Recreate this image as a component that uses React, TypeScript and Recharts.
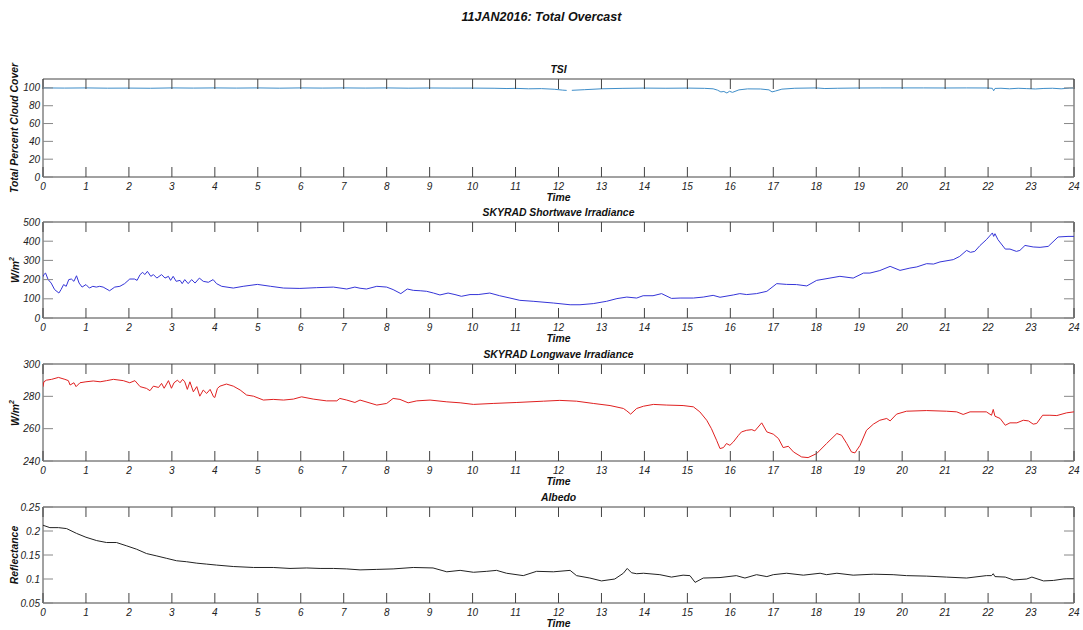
import React from 'react';
import { LineChart, Line, XAxis, YAxis, ReferenceArea } from 'recharts';

// ---- readings: [hour of day, value] ----
const HOUR_TICKS = [0, 1, 2, 3, 4, 5, 6, 7, 8, 9, 10, 11, 12, 13, 14, 15, 16, 17, 18, 19, 20, 21, 22, 23, 24];

const TSI_COVER: [number, number | null][] = [
  [0, 100], [0.5, 99.8], [1, 100], [1.5, 99.7], [2, 99.8], [2.5, 99.6], [3, 100], [3.5, 99.8],
  [4, 100], [4.5, 99.8], [5, 100], [5.5, 99.7], [6, 100], [6.5, 99.8], [7, 100], [7.5, 99.8],
  [8, 100], [8.5, 99.7], [9, 99.9], [9.5, 99.8], [10, 99.8], [10.5, 99.6], [10.8, 99.3], [11, 99.5],
  [11.3, 99.0], [11.6, 99.2], [11.9, 98.5], [12.1, 97.5], [12.19, 97.2], [12.25, null], [12.31, 97.3],
  [12.6, 98.0], [13, 99.0], [13.5, 99.5], [14, 99.8], [14.5, 99.6], [15, 99.8], [15.4, 99.5],
  [15.6, 99.0], [15.7, 97.5], [15.78, 95.5], [15.85, 96.0], [15.92, 94.3], [15.98, 96.2], [16.05, 95.0],
  [16.2, 97.8], [16.4, 98.9], [16.7, 98.8], [16.9, 97.8], [16.97, 95.5], [17.05, 96.5], [17.2, 98.6],
  [17.5, 99.6], [18, 100], [18.2, 99.3], [18.5, 99.6], [19, 99.9], [19.5, 100], [20, 100], [20.5, 100],
  [21, 99.9], [21.5, 100], [22, 99.9], [22.1, 99.5], [22.13, 96.8], [22.16, 99.4], [22.3, 99.6],
  [22.5, 99.0], [22.7, 99.6], [22.9, 99.2], [23.1, 98.8], [23.3, 99.4], [23.5, 99.6], [23.7, 99.0],
  [23.9, 99.8], [24, 100],
];

const SHORTWAVE: [number, number][] = [
  [0, 215], [0.02, 226], [0.06, 234], [0.12, 200], [0.19, 182], [0.27, 148], [0.37, 130], [0.42, 148],
  [0.48, 174], [0.54, 165], [0.6, 200], [0.66, 203], [0.72, 191], [0.78, 220], [0.84, 182], [0.91, 161],
  [1.0, 174], [1.08, 156], [1.16, 165], [1.24, 161], [1.32, 165], [1.4, 161], [1.55, 142], [1.67, 161],
  [1.79, 165], [1.9, 179], [2.02, 203], [2.13, 203], [2.19, 196], [2.26, 226], [2.32, 238], [2.37, 226],
  [2.43, 243], [2.51, 217], [2.57, 226], [2.65, 208], [2.76, 226], [2.84, 208], [2.92, 217], [2.97, 196],
  [3.03, 217], [3.1, 191], [3.19, 196], [3.24, 179], [3.3, 200], [3.38, 179], [3.46, 200], [3.54, 182],
  [3.64, 208], [3.73, 191], [3.85, 186], [3.96, 200], [4.04, 179], [4.16, 165], [4.43, 156], [4.66, 165],
  [4.99, 175], [5.3, 165], [5.6, 156], [5.98, 154], [6.37, 158], [6.76, 161], [7.07, 151], [7.26, 161],
  [7.38, 155], [7.53, 151], [7.77, 165], [8.0, 161], [8.15, 148], [8.33, 127], [8.48, 151], [8.62, 144],
  [8.78, 142], [8.93, 139], [9.09, 130], [9.24, 120], [9.43, 130], [9.59, 122], [9.74, 113], [9.94, 122],
  [10.13, 122], [10.4, 130], [10.63, 116], [10.87, 104], [11.1, 92], [11.41, 87], [11.88, 78], [12.27, 69],
  [12.5, 69], [12.81, 75], [13.12, 87], [13.36, 101], [13.59, 109], [13.82, 104], [13.97, 116], [14.2, 116],
  [14.4, 127], [14.63, 102], [14.83, 104], [15.14, 104], [15.37, 109], [15.6, 118], [15.76, 108],
  [16.07, 120], [16.22, 127], [16.38, 122], [16.61, 127], [16.85, 139], [17.08, 179], [17.31, 175],
  [17.54, 174], [17.78, 167], [18.01, 196], [18.32, 208], [18.55, 217], [18.86, 208], [19.1, 234],
  [19.25, 234], [19.48, 247], [19.72, 269], [19.95, 248], [20.18, 260], [20.34, 266], [20.57, 283],
  [20.73, 281], [20.88, 292], [21.19, 304], [21.34, 321], [21.5, 352], [21.59, 342], [21.69, 347],
  [21.81, 377], [21.96, 408], [22.1, 443], [22.13, 425], [22.16, 439], [22.23, 408], [22.4, 359],
  [22.51, 359], [22.66, 347], [22.74, 352], [22.86, 378], [23.05, 370], [23.21, 368], [23.4, 373],
  [23.63, 422], [23.86, 425], [24, 425],
];

const LONGWAVE: [number, number][] = [
  [0, 285.9], [0.02, 289], [0.08, 290], [0.2, 290.5], [0.36, 291.7], [0.51, 290.5], [0.59, 289.7],
  [0.63, 287], [0.72, 288.4], [0.77, 286], [0.86, 288.4], [1.0, 289], [1.17, 289.5], [1.33, 289],
  [1.48, 289.7], [1.64, 290.5], [1.87, 289.7], [2.02, 288.4], [2.14, 289.7], [2.26, 286], [2.41, 284.9],
  [2.49, 283.5], [2.57, 286.3], [2.69, 285.5], [2.76, 288], [2.82, 285], [2.92, 289.7], [2.99, 285],
  [3.05, 288.4], [3.13, 290], [3.19, 288.4], [3.25, 290.5], [3.3, 289], [3.36, 284.3], [3.42, 289],
  [3.5, 282.8], [3.58, 286], [3.65, 280.1], [3.73, 283.9], [3.81, 281.8], [3.89, 284.3], [3.97, 279.7],
  [4.0, 279.3], [4.06, 284.9], [4.12, 286.3], [4.27, 287.6], [4.43, 286.3], [4.59, 283.9], [4.74, 280.8],
  [4.9, 280.1], [5.13, 277.7], [5.36, 278.1], [5.6, 277.7], [5.83, 278.3], [6.02, 279.7], [6.29, 278.3],
  [6.6, 277.2], [6.84, 277.2], [6.91, 278.7], [7.07, 277.7], [7.26, 276.2], [7.38, 277.7], [7.77, 274.6],
  [8.0, 275.6], [8.15, 278.7], [8.31, 278.1], [8.5, 276], [8.7, 277.2], [9.01, 277.7], [9.4, 276.6],
  [9.71, 276], [10.02, 275], [10.48, 275.6], [11.03, 276.2], [11.65, 277], [12.03, 277.5], [12.42, 277],
  [12.81, 275.6], [13.2, 274.3], [13.51, 272.5], [13.59, 271], [13.68, 269], [13.82, 272.5], [13.98, 273.9],
  [14.21, 275], [14.52, 274.6], [14.9, 274.3], [15.14, 273.5], [15.29, 270.4], [15.45, 265.2], [15.56, 260],
  [15.68, 252.8], [15.76, 247.7], [15.84, 248.3], [15.91, 250.8], [15.99, 249.7], [16.07, 251.8],
  [16.19, 255.9], [16.26, 258], [16.38, 259], [16.5, 259.4], [16.57, 258.6], [16.73, 263.6], [16.85, 258],
  [17.0, 256.6], [17.12, 253.9], [17.23, 248.3], [17.35, 249.1], [17.47, 245.6], [17.66, 242.5],
  [17.81, 242.1], [18.01, 244.6], [18.24, 250.8], [18.48, 257], [18.59, 255.9], [18.71, 250.8],
  [18.82, 245.6], [18.9, 245], [19.02, 249.7], [19.17, 259], [19.33, 262.8], [19.48, 265.2], [19.64, 266.3],
  [19.72, 264.8], [19.87, 269], [20.1, 270.8], [20.57, 271.2], [21.03, 270.8], [21.27, 270.4], [21.42, 268.8],
  [21.58, 270.4], [21.96, 270.4], [22.08, 268.3], [22.12, 271.9], [22.16, 267.7], [22.28, 266.3],
  [22.4, 262.1], [22.51, 263.6], [22.67, 263.6], [22.82, 265.2], [22.94, 264.8], [23.05, 262.8],
  [23.13, 263.2], [23.27, 268.3], [23.44, 268.3], [23.6, 268.1], [23.83, 269.8], [24, 270.4],
];

const ALBEDO: [number, number][] = [
  [0, 0.212], [0.16, 0.207], [0.36, 0.207], [0.55, 0.205], [0.78, 0.195], [1.0, 0.187], [1.25, 0.18],
  [1.48, 0.176], [1.71, 0.176], [1.95, 0.169], [2.18, 0.162], [2.41, 0.153], [2.65, 0.148], [2.88, 0.143],
  [3.11, 0.138], [3.34, 0.136], [3.58, 0.133], [3.81, 0.131], [4.04, 0.129], [4.43, 0.126], [4.9, 0.124],
  [5.36, 0.124], [5.75, 0.122], [6.14, 0.123], [6.45, 0.122], [6.76, 0.122], [7.07, 0.121], [7.38, 0.119],
  [7.77, 0.12], [8.15, 0.121], [8.62, 0.124], [9.08, 0.123], [9.4, 0.115], [9.71, 0.118], [10.02, 0.114],
  [10.33, 0.116], [10.56, 0.118], [10.79, 0.112], [11.18, 0.107], [11.49, 0.116], [11.88, 0.115],
  [12.27, 0.118], [12.42, 0.107], [12.73, 0.102], [13.0, 0.096], [13.31, 0.1], [13.51, 0.112], [13.6, 0.122],
  [13.7, 0.113], [13.82, 0.111], [13.98, 0.112], [14.36, 0.109], [14.63, 0.104], [14.9, 0.108],
  [15.06, 0.107], [15.18, 0.093], [15.37, 0.102], [15.76, 0.103], [16.14, 0.107], [16.34, 0.102],
  [16.61, 0.109], [16.85, 0.105], [17.0, 0.109], [17.31, 0.112], [17.7, 0.108], [18.09, 0.112],
  [18.24, 0.109], [18.48, 0.112], [18.86, 0.108], [19.33, 0.11], [19.79, 0.109], [20.1, 0.107],
  [20.57, 0.106], [21.03, 0.104], [21.5, 0.102], [21.96, 0.107], [22.08, 0.107], [22.12, 0.111],
  [22.16, 0.105], [22.4, 0.104], [22.59, 0.098], [22.9, 0.1], [23.02, 0.104], [23.29, 0.096],
  [23.52, 0.097], [23.83, 0.101], [24, 0.101],
];

const COVER_TICKS = [0, 20, 40, 60, 80, 100];
const SW_TICKS = [0, 100, 200, 300, 400, 500];
const LW_TICKS = [240, 260, 280, 300];
const ALBEDO_TICKS = [0.05, 0.1, 0.15, 0.2, 0.25];

// ---- styling ----
const FONT = '"Liberation Sans", Arial, Helvetica, sans-serif';
const BOX = '#444';
const YTICK = '#888';
const TICK_LEN = 10;
const PAGE_W = 1083;
const PLOT_LEFT = 43;
const PLOT_RIGHT = 9;
const PLOT_W = PAGE_W - PLOT_LEFT - PLOT_RIGHT;
const Y_AXIS_W = 1;
const PAD_TOP = 20;
const AXIS_H = 30;

const labelText: React.CSSProperties = {
  position: 'absolute',
  fontFamily: FONT,
  fontWeight: 'bold',
  fontStyle: 'italic',
  fontSize: 10.4,
  lineHeight: 1,
  whiteSpace: 'nowrap',
  color: '#111',
};

const hourTick = (plotH: number) => (p: any) => (
  <g>
    <line x1={p.x} x2={p.x} y1={p.y} y2={p.y - TICK_LEN} stroke={BOX} strokeWidth={1} />
    <line x1={p.x} x2={p.x} y1={p.y - plotH} y2={p.y - plotH + TICK_LEN} stroke={BOX} strokeWidth={1} />
    <text
      x={p.x}
      y={p.y + 13}
      textAnchor="middle"
      fontFamily={FONT}
      fontStyle="italic"
      fontSize={10}
      fill="#222"
    >
      {p.payload.value}
    </text>
  </g>
);

const valueTick = (p: any) => (
  <g>
    <line x1={p.x} x2={p.x + TICK_LEN} y1={p.y} y2={p.y} stroke={YTICK} strokeWidth={1} />
    <line x1={p.x + PLOT_W} x2={p.x + PLOT_W - TICK_LEN} y1={p.y} y2={p.y} stroke={YTICK} strokeWidth={1} />
    <text
      x={p.x - 3}
      y={p.y}
      dy="0.35em"
      textAnchor="end"
      fontFamily={FONT}
      fontStyle="italic"
      fontSize={10}
      fill="#222"
    >
      {p.payload.value}
    </text>
  </g>
);

type PanelProps = {
  plotTop: number;
  plotH: number;
  series: [number, number | null][];
  color: string;
  domain: [number, number];
  yTicks: number[];
  title: string;
  yLabel: React.ReactNode;
};

function Panel({ plotTop, plotH, series, color, domain, yTicks, title, yLabel }: PanelProps) {
  const data = series.map(([t, v]) => ({ t, v }));
  const cx = PLOT_LEFT + PLOT_W / 2;
  return (
    <>
      <div style={{ position: 'absolute', left: 0, top: plotTop - PAD_TOP }}>
        <LineChart
          width={PAGE_W}
          height={PAD_TOP + plotH + AXIS_H}
          data={data}
          margin={{ top: PAD_TOP, right: PLOT_RIGHT, bottom: 0, left: PLOT_LEFT - Y_AXIS_W }}
        >
          <XAxis
            dataKey="t"
            type="number"
            domain={[0, 24]}
            ticks={HOUR_TICKS}
            interval={0}
            height={AXIS_H}
            tickSize={0}
            tickMargin={0}
            tickLine={false}
            axisLine={false}
            allowDataOverflow
            tick={hourTick(plotH)}
          />
          <YAxis
            type="number"
            domain={domain}
            ticks={yTicks}
            interval={0}
            width={Y_AXIS_W}
            tickSize={0}
            tickMargin={0}
            tickLine={false}
            axisLine={false}
            allowDataOverflow
            tick={valueTick}
          />
          <ReferenceArea
            x1={0}
            x2={24}
            y1={domain[0]}
            y2={domain[1]}
            fill="none"
            fillOpacity={0}
            stroke={BOX}
            strokeWidth={1}
          />
          <Line
            dataKey="v"
            type="linear"
            stroke={color}
            strokeWidth={1}
            dot={false}
            activeDot={false}
            connectNulls={false}
            isAnimationActive={false}
          />
        </LineChart>
      </div>
      <div style={{ ...labelText, left: cx, top: plotTop - 9, transform: 'translate(-50%, -50%)' }}>{title}</div>
      <div style={{ ...labelText, left: cx, top: plotTop + plotH + 21, transform: 'translate(-50%, -50%)' }}>Time</div>
      <div
        style={{
          ...labelText,
          left: 15,
          top: plotTop + plotH / 2,
          transform: 'translate(-50%, -50%) rotate(-90deg)',
        }}
      >
        {yLabel}
      </div>
    </>
  );
}

export default function App() {
  return (
    <div
      style={{
        position: 'absolute',
        left: 0,
        top: 0,
        width: PAGE_W,
        height: 630,
        background: '#fff',
        overflow: 'hidden',
      }}
    >
      <div
        style={{
          ...labelText,
          fontSize: 12.5,
          left: PAGE_W / 2,
          top: 17,
          transform: 'translate(-50%, -50%)',
        }}
      >
        11JAN2016: Total Overcast
      </div>
      <Panel
        plotTop={79}
        plotH={98}
        series={TSI_COVER}
        color="#3f8ec9"
        domain={[0, 110]}
        yTicks={COVER_TICKS}
        title="TSI"
        yLabel="Total Percent Cloud Cover"
      />
      <Panel
        plotTop={222}
        plotH={96}
        series={SHORTWAVE}
        color="#3535d8"
        domain={[0, 500]}
        yTicks={SW_TICKS}
        title="SKYRAD Shortwave Irradiance"
        yLabel={<span>W/m<sup style={{ fontSize: 7 }}>2</sup></span>}
      />
      <Panel
        plotTop={364}
        plotH={97}
        series={LONGWAVE}
        color="#e02020"
        domain={[240, 300]}
        yTicks={LW_TICKS}
        title="SKYRAD Longwave Irradiance"
        yLabel={<span>W/m<sup style={{ fontSize: 7 }}>2</sup></span>}
      />
      <Panel
        plotTop={507}
        plotH={96}
        series={ALBEDO}
        color="#222"
        domain={[0.05, 0.25]}
        yTicks={ALBEDO_TICKS}
        title="Albedo"
        yLabel="Reflectance"
      />
    </div>
  );
}
